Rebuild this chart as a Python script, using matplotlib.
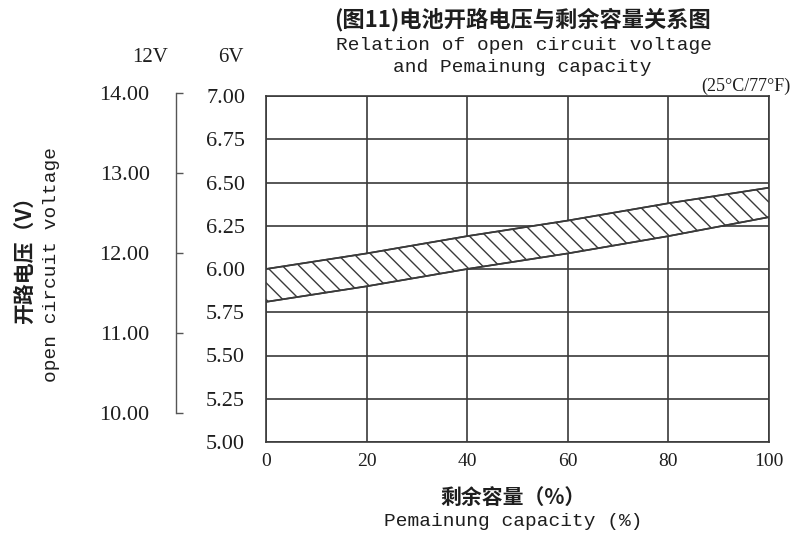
import matplotlib
matplotlib.use("Agg")
import matplotlib.pyplot as plt

# ── Data ──
capacity = [0, 20, 40, 60, 80, 100]               # remaining capacity (%)
v6_upper = [6.00, 6.09, 6.19, 6.28, 6.38, 6.47]    # 6V band upper edge
v6_lower = [5.81, 5.90, 6.00, 6.09, 6.19, 6.30]    # 6V band lower edge
x_ticks = [0, 20, 40, 60, 80, 100]
y6_ticks = [5.00, 5.25, 5.50, 5.75, 6.00, 6.25, 6.50, 6.75, 7.00]
y12_ticks = [10.0, 11.0, 12.0, 13.0, 14.0]

INK = "#3a3a3a"
TXT = "#1e1e1e"
SERIF = ["Liberation Serif", "DejaVu Serif"]
MONO = ["Liberation Mono", "DejaVu Sans Mono"]
CJK = ["Noto Sans CJK SC", "DejaVu Sans"]

W, H = 800, 536
fig = plt.figure(figsize=(W / 100, H / 100), dpi=100)
plt.rcParams["hatch.linewidth"] = 1.0
plt.rcParams["hatch.color"] = INK


def px(x, y):
    return x / W, 1 - y / H


# ── Main (6V) axes ──
ax = fig.add_axes([266 / W, 1 - 442 / H, 503 / W, 346 / H])
ax.fill_between(capacity, v6_lower, v6_upper, facecolor="white",
                edgecolor=INK, hatch="\\\\", linewidth=1.2, zorder=3)
ax.plot(capacity, v6_upper, color=INK, lw=1.2, zorder=4)
ax.plot(capacity, v6_lower, color=INK, lw=1.2, zorder=4)

ax.set_xlim(0, 100)
ax.set_ylim(5, 7)
ax.set_xticks(x_ticks)
ax.set_yticks(y6_ticks)
ax.set_yticklabels([f"{v:.2f}" for v in y6_ticks])
ax.grid(color=INK, lw=1.2, zorder=1)
ax.tick_params(axis="y", length=0, pad=15, labelsize=16)
ax.tick_params(axis="x", length=0, pad=8, labelsize=14)
for lab in ax.get_xticklabels() + ax.get_yticklabels():
    lab.set_family(SERIF)
    lab.set_color(TXT)
for sp in ax.spines.values():
    sp.set_color(INK)
    sp.set_linewidth(1.2)

# ── Left 12V bracket axis ──
ax2 = fig.add_axes([176 / W, 1 - 413 / H, 1 / W, 320 / H])
ax2.set_facecolor("none")
ax2.set_ylim(10, 14)
ax2.set_yticks(y12_ticks)
ax2.set_yticklabels([f"{v:.2f}" for v in y12_ticks])
ax2.set_xticks([])
for name, sp in ax2.spines.items():
    sp.set_visible(name == "left")
ax2.spines["left"].set_color("#555555")
ax2.spines["left"].set_linewidth(1.0)
ax2.tick_params(axis="y", direction="in", length=5, width=1.0,
                color="#555555", pad=19, labelsize=16)
for lab in ax2.get_yticklabels():
    lab.set_family(SERIF)
    lab.set_color(TXT)

# ── Titles and labels ──
fig.text(*px(523, 20), "(图11)电池开路电压与剩余容量关系图", family=CJK,
         fontsize=16, fontweight="bold", ha="center", va="center", color=TXT)
fig.text(*px(524, 45), "Relation of open circuit voltage", family=MONO,
         fontsize=14, ha="center", va="center", color=TXT)
fig.text(*px(522, 68), "and Pemainung capacity", family=MONO,
         fontsize=14, ha="center", va="center", color=TXT)
fig.text(*px(790, 86), "(25°C/77°F)", family=SERIF,
         fontsize=13, ha="right", va="center", color=TXT)
fig.text(*px(150, 57), "12V", family=SERIF, fontsize=15,
         ha="center", va="center", color=TXT)
fig.text(*px(231, 57), "6V", family=SERIF, fontsize=15,
         ha="center", va="center", color=TXT)

fig.text(*px(25, 255), "开路电压（V）", family=CJK, fontsize=15, fontweight="bold",
         rotation=90, ha="center", va="center", color=TXT)
fig.text(*px(52, 265), "open circuit voltage", family=MONO, fontsize=14,
         rotation=90, ha="center", va="center", color=TXT)
fig.text(*px(513, 497), "剩余容量（%）", family=CJK, fontsize=15, fontweight="bold",
         ha="center", va="center", color=TXT)
fig.text(*px(513, 521), "Pemainung capacity (%)", family=MONO, fontsize=14,
         ha="center", va="center", color=TXT)

fig.savefig("out.png", dpi=100, facecolor="white")
